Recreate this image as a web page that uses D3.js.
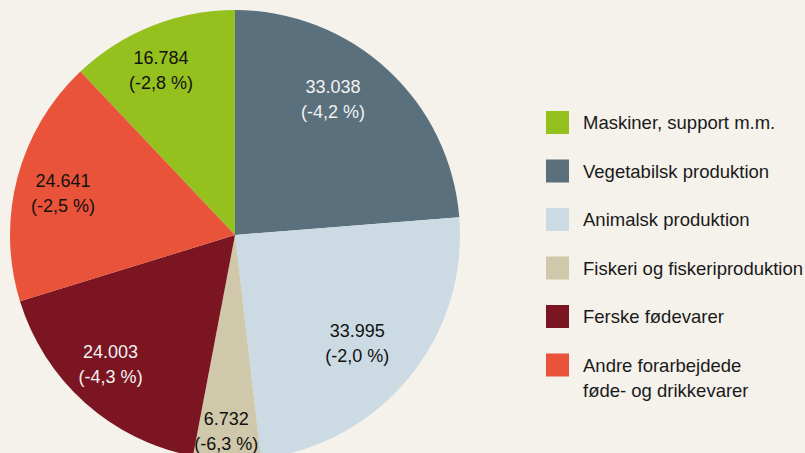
<!DOCTYPE html>
<meta charset="utf-8">
<style>
    body { margin: 0; background: #f5f1eb; }
    svg { display: block; font-family: "Liberation Sans", Arial, sans-serif; }
</style>
<script src="https://d3js.org/d3.v7.min.js"></script>
<div id="chart"></div>
<script>
    // legend order
    var categories = ["Maskiner, support m.m.", "Vegetabilsk produktion", "Animalsk produktion",
        "Fiskeri og fiskeriproduktion", "Ferske fødevarer", "Andre forarbejdede føde- og drikkevarer"];
    var values = [16784, 33038, 33995, 6732, 24003, 24641];
    var valueLabels = ["16.784", "33.038", "33.995", "6.732", "24.003", "24.641"];
    var changeLabels = ["(-2,8 %)", "(-4,2 %)", "(-2,0 %)", "(-6,3 %)", "(-4,3 %)", "(-2,5 %)"];
    var legendLines = [["Maskiner, support m.m."], ["Vegetabilsk produktion"], ["Animalsk produktion"],
        ["Fiskeri og fiskeriproduktion"], ["Ferske fødevarer"], ["Andre forarbejdede", "føde- og drikkevarer"]];

    var colors = ["#95c11f", "#5a707c", "#cbdae3", "#cfc8ab", "#7c1522", "#e9533a"];
    var textColors = ["#111", "#f2f2f2", "#111", "#111", "#f2f2f2", "#111"];
    // hand nudges for the slice labels (radius, degrees)
    var labelNudge = [[181, -2.4], [168, -7], [163, 2], [196, 0.5], [179, 2.2], [177, -1.1]];

    var width = 805, height = 453,
        cx = 235, cy = 235, radius = 225;

    var svg = d3.select("#chart").append("svg")
        .attr("width", width)
        .attr("height", height);

    var color = d3.scaleOrdinal().domain(categories).range(colors);

    var total = d3.sum(values);
    var offset = -2 * Math.PI * values[0] / total;   // so that Vegetabilsk starts at 12 o'clock

    var pie = d3.pie().sort(null)
        .startAngle(offset)
        .endAngle(2 * Math.PI + offset);

    var arcs = pie(values);

    var g = svg.append("g").attr("transform", "translate(" + cx + "," + cy + ")");

    var arc = d3.arc().innerRadius(0).outerRadius(radius);

    g.selectAll("path")
        .data(arcs)
        .enter()
        .append("path")
        .attr("d", arc)
        .attr("fill", function (d, i) { return color(categories[i]); });

    var labels = g.selectAll("text.lbl")
        .data(arcs)
        .enter()
        .append("text")
        .attr("class", "lbl")
        .attr("text-anchor", "middle")
        .style("font-size", "18px")
        .attr("fill", function (d, i) { return textColors[i]; })
        .attr("transform", function (d, i) {
            var a = (d.startAngle + d.endAngle) / 2 + labelNudge[i][1] * Math.PI / 180;
            var r = labelNudge[i][0];
            return "translate(" + (r * Math.sin(a)) + "," + (-r * Math.cos(a)) + ")";
        });

    labels.append("tspan").attr("x", 0).attr("y", -6).text(function (d, i) { return valueLabels[i]; });
    labels.append("tspan").attr("x", 0).attr("y", 19).text(function (d, i) { return changeLabels[i]; });

    // legend
    var legend = svg.append("g").attr("transform", "translate(546,111)");

    var item = legend.selectAll("g")
        .data(categories)
        .enter()
        .append("g")
        .attr("transform", function (d, i) { return "translate(0," + (i * 48.5) + ")"; });

    item.append("rect")
        .attr("width", 23)
        .attr("height", 23)
        .attr("fill", function (d) { return color(d); });

    item.append("text")
        .attr("x", 37)
        .attr("y", 18)
        .style("font-size", "18.5px")
        .attr("fill", "#1a1a1a")
        .selectAll("tspan")
        .data(function (d, i) { return legendLines[i]; })
        .enter()
        .append("tspan")
        .attr("x", 37)
        .attr("dy", function (d, j) { return j === 0 ? 0 : 25; })
        .text(function (d) { return d; });
</script>
